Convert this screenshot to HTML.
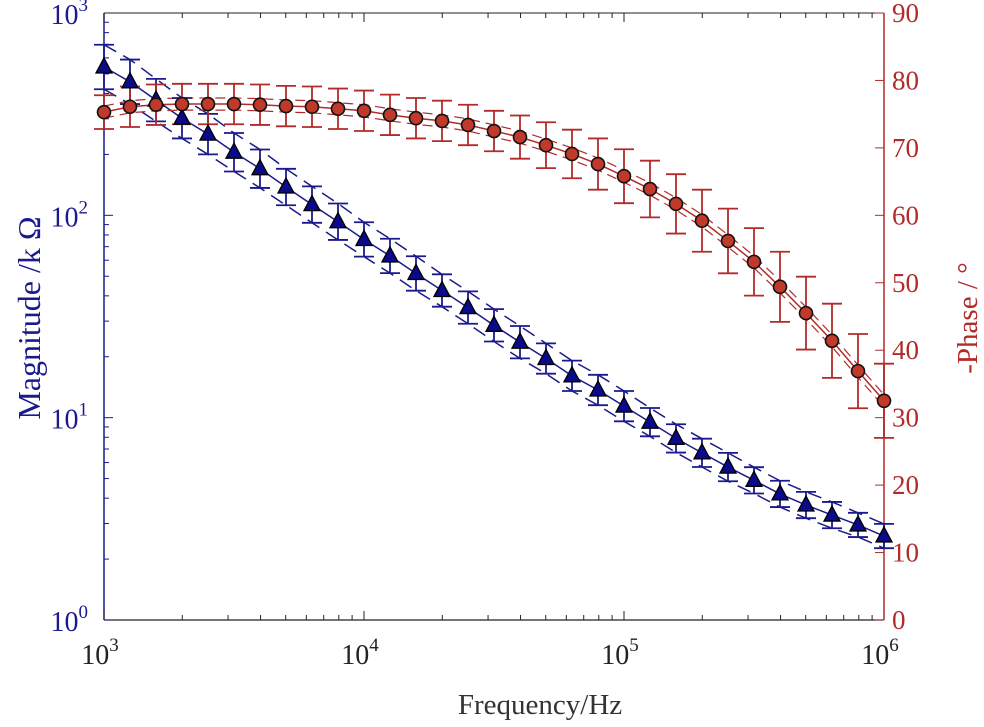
<!DOCTYPE html>
<html><head><meta charset="utf-8"><style>
body{margin:0;background:#fff}
svg{font-family:"Liberation Serif",serif}
</style></head><body>
<svg id="c" width="984" height="722" viewBox="0 0 984 722"></svg>
<script>
const freqExp=[3,3.1,3.2,3.3,3.4,3.5,3.6,3.7,3.8,3.9,4,4.1,4.2,4.3,4.4,4.5,4.6,4.7,4.8,4.9,5,5.1,5.2,5.3,5.4,5.5,5.6,5.7,5.8,5.9,6];
const magnitude=[541,457,371,302,252,205,170,138,113,93,76,63,51.6,42.5,35,28.6,23.6,19.6,16.1,13.7,11.4,9.5,7.9,6.7,5.7,4.9,4.2,3.7,3.3,2.95,2.6];
const magErrLog=[0.11,0.11,0.105,0.1,0.1,0.095,0.095,0.09,0.09,0.09,0.085,0.085,0.085,0.08,0.08,0.08,0.08,0.075,0.075,0.075,0.075,0.07,0.07,0.07,0.07,0.065,0.065,0.065,0.065,0.06,0.06];
const phase=[75.3,76.1,76.4,76.5,76.5,76.5,76.4,76.2,76.1,75.8,75.5,74.9,74.4,74.0,73.4,72.5,71.6,70.4,69.1,67.6,65.8,63.9,61.7,59.2,56.2,53.1,49.4,45.5,41.4,36.9,32.5];
const phaseErr=[2.5,3,3,3,3,3,3,3,3,3,3,3,3,3,3,3,3.2,3.4,3.6,3.8,4,4.2,4.4,4.6,4.8,5,5.2,5.4,5.5,5.5,5.5];
const xTicks=[3,4,5,6];
const yLTicks=[0,1,2,3];
const yRTicks=[0,10,20,30,40,50,60,70,80,90];

const L=104,R=884,T=13,B=620;
const X=e=>L+(e-3)/3*(R-L);
const YL=l=>B-l/3*(B-T);
const YR=v=>B-v/90*(B-T);
const svg=document.getElementById('c');
const NS='http://www.w3.org/2000/svg';
function mk(t,a,p){const e=document.createElementNS(NS,t);for(const k in a)e.setAttribute(k,a[k]);(p||svg).appendChild(e);return e;}
const BLUE='#1a1a8c',RED='#b22a2a';

let e;
e=mk('line',{x1:L,y1:T,x2:R,y2:T,stroke:'#222','stroke-width':1});

e=mk('line',{x1:L,y1:B,x2:R,y2:B,stroke:'#222','stroke-width':1.2});

e=mk('line',{x1:L,y1:T,x2:L,y2:B,stroke:BLUE,'stroke-width':1.5});

e=mk('line',{x1:R,y1:T,x2:R,y2:B,stroke:RED,'stroke-width':1.5});


for(let d=3;d<6;d++)for(let m=1;m<10;m++){const x=X(d+Math.log10(m));const len=m==1?9:5;
 mk('line',{x1:x,y1:B,x2:x,y2:B-len,stroke:'#222'});mk('line',{x1:x,y1:T,x2:x,y2:T+len,stroke:'#222'});}
xTicks.forEach(d=>{const t=mk('text',{x:X(d)-4,y:B+44,'font-size':28,'text-anchor':'middle',fill:'#222'});
 
 t.textContent='10';const s=mk('tspan',{dy:-13,'font-size':19},t);s.textContent=d;});
for(let d=0;d<3;d++)for(let m=1;m<10;m++){const y=YL(d+Math.log10(m));mk('line',{x1:L,y1:y,x2:L+(m==1?9:5),y2:y,stroke:BLUE});}
yLTicks.forEach(d=>{const t=mk('text',{x:L-16,y:YL(d)+11,'font-size':28,'text-anchor':'end',fill:BLUE});
 
 t.textContent='10';const s=mk('tspan',{dy:-13,'font-size':19},t);s.textContent=d;});
yRTicks.forEach(v=>{const y=YR(v);mk('line',{x1:R,y1:y,x2:R-9,y2:y,stroke:RED});
 const t=mk('text',{x:R+8,y:y+9,'font-size':27,fill:RED});
 t.textContent=v;});

e=mk('text',{x:540,y:714,'font-size':29,'text-anchor':'middle',fill:'#333'});e.textContent='Frequency/Hz';

e=mk('text',{x:0,y:0,'font-size':32,'text-anchor':'middle',fill:BLUE,transform:'translate(40,318) rotate(-90)'});e.textContent='Magnitude /k Ω';

e=mk('text',{x:0,y:0,'font-size':29,'text-anchor':'middle',fill:RED,transform:'translate(977,318) rotate(-90)'});e.textContent='-Phase / °';


function poly(pts,attrs,name){const p=mk('polyline',Object.assign({points:pts.map(q=>q.join(',')).join(' '),fill:'none'},attrs));
 }

const ml=magnitude.map(Math.log10);
poly(freqExp.map((f,i)=>[X(f),YL(ml[i]+magErrLog[i])]),{stroke:BLUE,'stroke-width':1.5,'stroke-dasharray':'14 8'},'magnitude-upper-bound');
poly(freqExp.map((f,i)=>[X(f),YL(ml[i]-magErrLog[i])]),{stroke:BLUE,'stroke-width':1.5,'stroke-dasharray':'14 8'},'magnitude-lower-bound');
poly(freqExp.map((f,i)=>[X(f),YL(ml[i])]),{stroke:BLUE,'stroke-width':1.5},'magnitude-line');
poly(freqExp.map((f,i)=>[X(f),YR(phase[i]+0.9)]),{stroke:RED,'stroke-width':1.2,'stroke-dasharray':'10 6'},'phase-upper-bound');
poly(freqExp.map((f,i)=>[X(f),YR(phase[i]-0.9)]),{stroke:RED,'stroke-width':1.2,'stroke-dasharray':'10 6'},'phase-lower-bound');
poly(freqExp.map((f,i)=>[X(f),YR(phase[i])]),{stroke:RED,'stroke-width':1.5},'phase-line');

freqExp.forEach((f,i)=>{const x=X(f);
 const y1=YL(ml[i]+magErrLog[i]),y2=YL(ml[i]-magErrLog[i]);
 const g=mk('g',{stroke:BLUE,'stroke-width':1.8});
 
 mk('line',{x1:x,y1:y1,x2:x,y2:y2},g);mk('line',{x1:x-10,y1:y1,x2:x+10,y2:y1},g);mk('line',{x1:x-10,y1:y2,x2:x+10,y2:y2},g);
 const p1=YR(phase[i]+phaseErr[i]),p2=YR(phase[i]-phaseErr[i]);
 const h=mk('g',{stroke:RED,'stroke-width':1.8});
 
 mk('line',{x1:x,y1:p1,x2:x,y2:p2},h);mk('line',{x1:x-10,y1:p1,x2:x+10,y2:p1},h);mk('line',{x1:x-10,y1:p2,x2:x+10,y2:p2},h);
});
freqExp.forEach((f,i)=>{const x=X(f),y=YL(ml[i]);
 const t=mk('polygon',{points:`${x},${y-9} ${x-8},${y+6} ${x+8},${y+6}`,fill:'#0a0a8a',stroke:'#000','stroke-width':1.3});
 
 const c=mk('circle',{cx:x,cy:YR(phase[i]),r:6.5,fill:'#c0392b',stroke:'#111','stroke-width':1.6});
 
});
</script>
</body></html>
